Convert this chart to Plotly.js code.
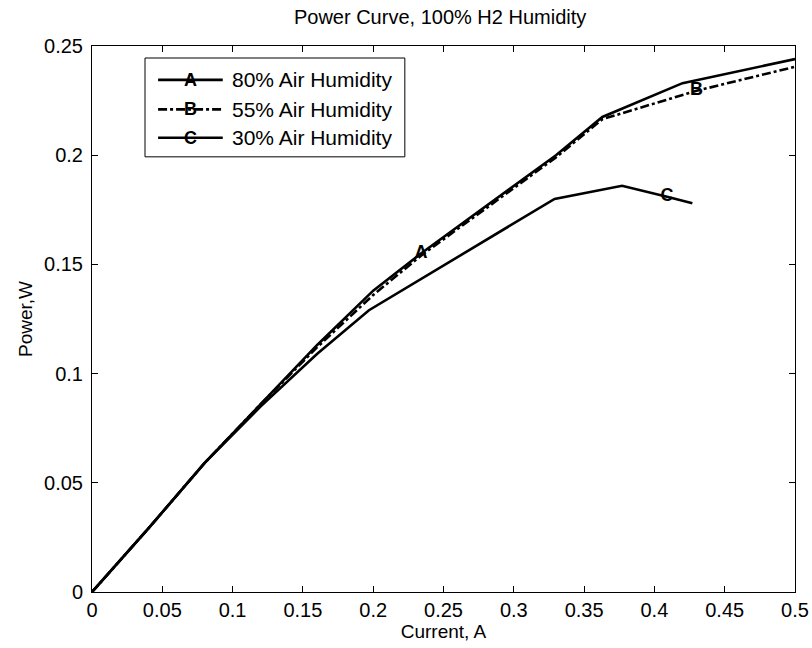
<!DOCTYPE html>
<html><head><meta charset="utf-8">
<script src="https://cdn.plot.ly/plotly-3.0.1.min.js"></script>
<style>body{margin:0;background:#fff}#chart{width:812px;height:648px}</style>
</head><body><div id="chart"></div>
<script>
// Current (A) and Power (W) for each air humidity
var xA = [0, 0.04, 0.08, 0.12, 0.16, 0.2, 0.234, 0.33, 0.363, 0.42, 0.5];
var yA = [0, 0.029, 0.059, 0.086, 0.113, 0.138, 0.155, 0.2, 0.2175, 0.233, 0.244];
var xB = [0, 0.04, 0.08, 0.12, 0.16, 0.2, 0.234, 0.33, 0.363, 0.43, 0.5];
var yB = [0, 0.029, 0.059, 0.086, 0.112, 0.136, 0.154, 0.199, 0.2165, 0.2295, 0.2405];
var xC = [0, 0.04, 0.08, 0.12, 0.16, 0.197, 0.329, 0.377, 0.409, 0.427];
var yC = [0, 0.029, 0.059, 0.085, 0.109, 0.129, 0.18, 0.186, 0.181, 0.178];
var names = ["80% Air Humidity", "55% Air Humidity", "30% Air Humidity"];
var letters = ["A", "B", "C"];
var labelIdx = [6, 9, 8];
var dashes = ['solid', 'dashdot', 'solid'];

var FAM = 'Liberation Sans, Arial, Helvetica, sans-serif';
var series = [[xA, yA], [xB, yB], [xC, yC]];
var traces = series.map(function (s, i) {
  var txt = s[0].map(function (_, k) { return k === labelIdx[i] ? letters[i] : ''; });
  return {
    x: s[0], y: s[1], name: names[i], type: 'scatter', mode: 'lines+text',
    text: txt, textposition: 'middle center', showlegend: false,
    textfont: {family: FAM, size: 18, color: '#000', weight: 'bold'},
    line: {color: '#000', width: 2.6, dash: dashes[i]}
  };
});

// manual legend (paper coordinates) so the letter sits on each sample line
var shapes = [{type: 'rect', xref: 'paper', yref: 'paper', x0: 0.0754, x1: 0.445, y0: 0.797, y1: 0.978,
  line: {color: '#000', width: 1}, fillcolor: '#fff', layer: 'above'}];
var annotations = [];
var rowY = [0.938, 0.884, 0.832];
names.forEach(function (n, i) {
  shapes.push({type: 'line', xref: 'paper', yref: 'paper', x0: 0.094, x1: 0.186, y0: rowY[i], y1: rowY[i],
    line: {color: '#000', width: 2.6, dash: dashes[i]}, layer: 'above'});
  annotations.push({xref: 'paper', yref: 'paper', x: 0.14, y: rowY[i], text: '<b>' + letters[i] + '</b>',
    showarrow: false, xanchor: 'center', yanchor: 'middle', font: {family: FAM, size: 18, color: '#000'}});
  annotations.push({xref: 'paper', yref: 'paper', x: 0.196, y: rowY[i], text: n,
    showarrow: false, xanchor: 'left', yanchor: 'middle', font: {family: FAM, size: 21, color: '#000'}});
});

var font = {family: FAM, size: 20, color: '#000'};
var layout = {
  width: 812, height: 648,
  margin: {l: 92, r: 17, t: 46, b: 56},
  paper_bgcolor: '#fff', plot_bgcolor: '#fff',
  font: font,
  title: {text: 'Power Curve, 100% H2 Humidity', font: {family: FAM, size: 20, color: '#000'},
    x: 0.542, xanchor: 'center', y: 0.974, yanchor: 'middle'},
  xaxis: {range: [0, 0.5], dtick: 0.05, ticks: 'inside', ticklen: 6, tickcolor: '#000',
    showline: true, linecolor: '#000', linewidth: 1, mirror: 'ticks', showgrid: false, zeroline: false,
    tickfont: font, title: {text: 'Current, A', font: {family: FAM, size: 19, color: '#000'}, standoff: 0}},
  yaxis: {range: [0, 0.25], dtick: 0.05, ticks: 'inside', ticklen: 6, tickcolor: '#000',
    showline: true, linecolor: '#000', linewidth: 1, mirror: 'ticks', showgrid: false, zeroline: false,
    ticklabelstandoff: 4,
    tickfont: font, title: {text: 'Power,W', font: {family: FAM, size: 19, color: '#000'}, standoff: 6}},
  showlegend: false,
  shapes: shapes,
  annotations: annotations
};
Plotly.newPlot('chart', traces, layout, {displayModeBar: false, staticPlot: true});
</script></body></html>
